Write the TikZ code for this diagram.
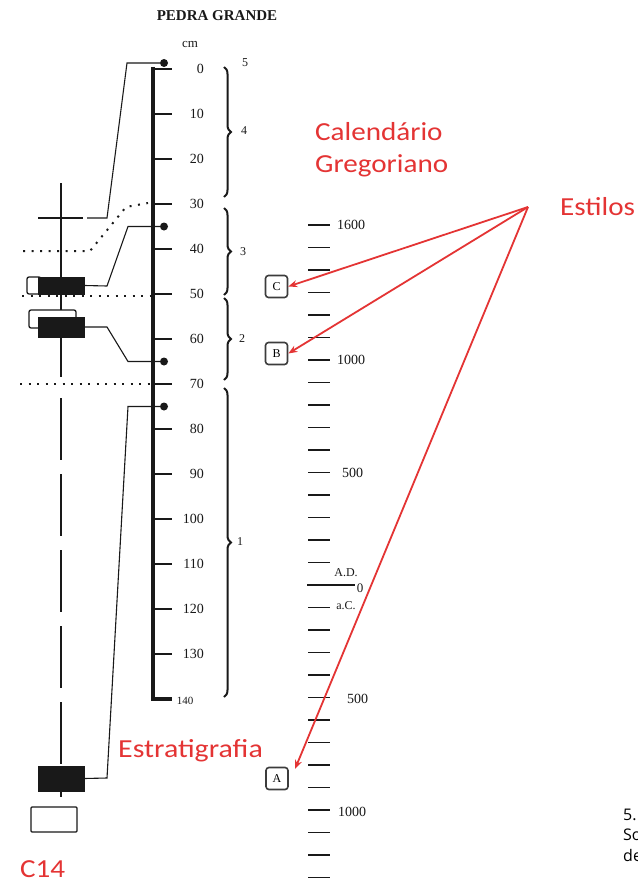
\documentclass[tikz,border=0pt]{standalone}
\usepackage{fontspec}
\setmainfont{Liberation Serif}
\newfontfamily\calib{Carlito}
\newfontfamily\opens{Open Sans}
\usetikzlibrary{decorations.pathreplacing,arrows.meta}
\definecolor{redA}{RGB}{228,52,52}
\definecolor{ink}{RGB}{25,25,25}
\begin{document}
\begin{tikzpicture}[x=1pt,y=-1pt,
  dot/.style={circle,fill=ink,inner sep=0pt,minimum size=8pt},
  conn/.style={draw=ink,line width=1.1pt},
  dotline/.style={draw=ink,line width=2pt,dash pattern=on 2pt off 6.5pt},
  blk/.style={fill=ink,draw=ink,inner sep=0pt,line width=0.8pt},
  hollow/.style={draw=ink,fill=white,rounded corners=2pt,line width=1.3pt,inner sep=0pt},
  cmlab/.style={font=\fontsize{14}{14}\selectfont,anchor=east,inner sep=0pt,text=ink},
  brc/.style={decorate,decoration={brace,amplitude=7pt},line width=2pt,draw=ink},
  brlab/.style={font=\fontsize{12}{12}\selectfont,inner sep=0pt,text=ink},
  yrlab/.style={font=\fontsize{14}{14}\selectfont,anchor=west,inner sep=0pt,text=ink},
  lbox/.style={draw=ink!85,rounded corners=3pt,line width=1.6pt,minimum size=22pt,inner sep=0pt,font=\fontsize{12}{12}\selectfont},
  redtxt/.style={text=redA,font=\calib\fontsize{26}{26}\selectfont,anchor=base west,inner sep=0pt},
  redarr/.style={draw=redA,line width=1.8pt,-{Stealth[length=9pt,width=7pt]}},
  sidetxt/.style={font=\opens\fontsize{16}{16}\selectfont,anchor=base west,inner sep=0pt}
]
\useasboundingbox (0,0) rectangle (637,883);
\clip (0,0) rectangle (637,883);
\fill[white] (0,0) rectangle (637,883);

% title
\node[font=\bfseries\fontsize{15}{15}\selectfont,inner sep=0pt,text=ink] (title) at (217,16) {PEDRA GRANDE};
\node[font=\fontsize{13}{13}\selectfont,inner sep=0pt,text=ink] (cm) at (190,45) {cm};

% C14 axis
\draw[ink,line width=1.4pt] (61,183) -- (61,377);
\draw[ink,line width=1.4pt,dash pattern=on 62pt off 14pt] (61,398) -- (61,797);

% dotted horizons
\draw[dotline] (23,251) -- (90,251) -- (126,207) -- (148,203);
\draw[dotline] (22,296) -- (150,296);
\draw[dotline] (20,384) -- (150,384);

% cross
\draw[ink,line width=2.5pt] (38,218) -- (83,218);
\coordinate (crossR) at (87,218);

% sample boxes
\node[hollow,minimum width=14pt,minimum height=17pt] (w1) at (34,285.5) {};
\node[blk,minimum width=46pt,minimum height=17pt] (b1) at (61,285.5) {};
\node[hollow,minimum width=47pt,minimum height=18pt] (w2) at (52.5,319) {};
\node[blk,minimum width=46pt,minimum height=20pt] (b2) at (61,327) {};
\node[blk,minimum width=46pt,minimum height=25pt] (b3) at (61,778.5) {};
\node[hollow,minimum width=46pt,minimum height=25pt,rounded corners=1pt] (w4) at (54,819.5) {};

% main scale
\draw[ink,line width=3.6pt,line join=miter] (153,67) -- (153,699) -- (172,699);
\foreach \c in {0,10,...,130}{
  \draw[ink,line width=1.6pt] (155,{69+4.5*\c}) -- (172,{69+4.5*\c});
  \node[cmlab] (cm\c) at (204,{69+4.5*\c}) {\c};
}
\node[font=\fontsize{11}{11}\selectfont,inner sep=0pt,text=ink] (cm140) at (185,701) {140};

% dots
\node[dot] (d0) at (164,63) {};
\node[dot] (d35) at (164,226.5) {};
\node[dot] (d65) at (164,361.5) {};
\node[dot] (d75) at (164,406.5) {};

% connectors
\draw[conn] (d0) -- (127,63) -- (107,218) -- (crossR);
\draw[conn] (d35) -- (128,226.5) -- (107,286) -- (b1.east);
\draw[conn] (b2.east) -- (107,327) -- (128,361.5) -- (d65);
\draw[conn] (d75) -- (128,406.5) -- (107,778) -- (b3.east);

% braces
\draw[brc] (224,67) -- (224,197);
\draw[brc] (224,208) -- (224,295);
\draw[brc] (224,298) -- (224,380);
\draw[brc] (224,388) -- (224,697);
\node[brlab] (l5) at (245,63) {5};
\node[brlab] (l4) at (244,131) {4};
\node[brlab] (l3) at (243,252) {3};
\node[brlab] (l2) at (242,339) {2};
\node[brlab] (l1) at (240,542) {1};

% calendar scale
\foreach \k in {0,...,29}{
  \ifnum\k=16\relax\else
    \draw[ink,line width=1.8pt] (308,{225+22.5*\k}) -- (330,{225+22.5*\k});
  \fi
}
\draw[ink,line width=1.2pt] (307,585) -- (355,585);
\node[yrlab] (y1600) at (337,225) {1600};
\node[yrlab] (y1000a) at (337,360) {1000};
\node[yrlab] (y500a) at (342,472.5) {500};
\node[font=\fontsize{12}{12}\selectfont,inner sep=0pt,text=ink] (ad) at (346,573) {A.D.};
\node[font=\fontsize{13}{13}\selectfont,inner sep=0pt,text=ink] (y0) at (360,588) {0};
\node[font=\fontsize{12}{12}\selectfont,inner sep=0pt,text=ink] (ac) at (346,606) {a.C.};
\node[yrlab] (y500b) at (347,699) {500};
\node[yrlab] (y1000b) at (338,812) {1000};

% style boxes
\node[lbox] (bC) at (276.5,286.5) {C};
\node[lbox] (bB) at (276.5,353.5) {B};
\node[lbox] (bA) at (277,778.5) {A};

% red labels
\node[redtxt] (cal1) at (315,140) {\scalebox{1.12}[1]{Calendário}};
\node[redtxt] (cal2) at (315,172) {\scalebox{1.12}[1]{Gregoriano}};
\node[redtxt] (est) at (560,215) {\scalebox{1.12}[1]{Estilos}};
\node[redtxt] (estr) at (118,757) {\scalebox{1.15}[1]{Estratigrafia}};
\node[redtxt] (c14) at (20,877) {\scalebox{1.12}[1]{C14}};

% red arrows
\coordinate (src) at (528,207);
\coordinate (tipA) at (295,769);
\draw[redarr] (src) -- (bC.east);
\draw[redarr] (src) -- (bB.east);
\draw[redarr] (src) -- (tipA);

% side caption (cut at the edge)
\node[sidetxt] (n5) at (623,820) {5.};
\node[sidetxt] (nSo) at (623,840) {So};
\node[sidetxt] (nde) at (623,861) {de};
\end{tikzpicture}
\end{document}
